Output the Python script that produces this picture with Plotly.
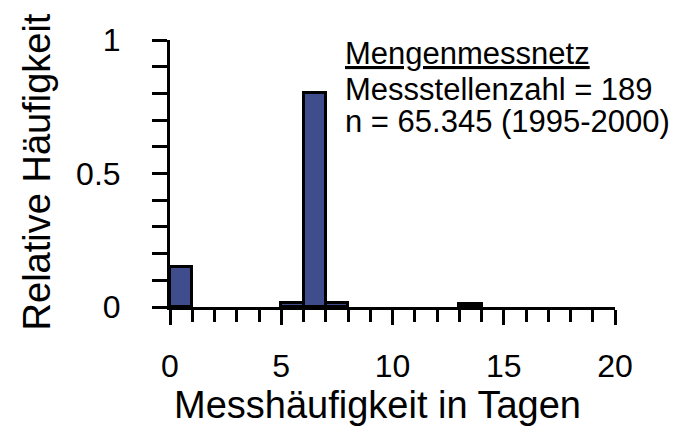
import plotly.graph_objects as go

# Data (bins: left edge in days, relative frequency)
days = [0, 5, 6, 7, 13]
rel_freq = [0.15, 0.016, 0.80, 0.016, 0.01]

x_tick_vals = [0, 5, 10, 15, 20]
x_tick_text = ["0", "5", "10", "15", "20"]
y_tick_vals = [0, 0.5, 1]
y_tick_text = ["0", "0.5", "1"]

x_title = "Messhäufigkeit in Tagen"
y_title = "Relative Häufigkeit"
info_lines = ["<u>Mengenmessnetz</u>", "Messstellenzahl = 189", "n = 65.345 (1995-2000)"]

FONT = "Arial, Liberation Sans, sans-serif"

fig = go.Figure()
fig.add_trace(go.Bar(
    x=days, y=rel_freq, width=1, offset=0,
    marker=dict(color="rgb(64,77,140)", line=dict(color="black", width=3)),
    showlegend=False, cliponaxis=False,
))

# page body has an 8px margin; compensate so the plot area lands where the reference has it
fig.update_layout(
    width=679, height=428,
    margin=dict(l=162, r=72, t=32, b=129),
    paper_bgcolor="white", plot_bgcolor="white",
    font=dict(family=FONT, color="black", size=32),
    bargap=0,
)

fig.update_xaxes(
    range=[0, 20], showgrid=False, zeroline=False,
    showline=True, linecolor="black", linewidth=3,
    ticks="outside", ticklen=15, tickwidth=3, tickcolor="black",
    tickvals=x_tick_vals, ticktext=x_tick_text,
    tickfont=dict(size=32), ticklabelstandoff=14,
    minor=dict(dtick=1, ticks="outside", ticklen=12, tickwidth=3, tickcolor="black", showgrid=False),
)
fig.update_yaxes(
    range=[0, 1], showgrid=False, zeroline=False,
    showline=True, linecolor="black", linewidth=3,
    ticks="outside", ticklen=15, tickwidth=3, tickcolor="black",
    tickvals=y_tick_vals, ticktext=y_tick_text,
    tickfont=dict(size=32), ticklabelstandoff=25,
    minor=dict(dtick=0.1, ticks="outside", ticklen=15, tickwidth=3, tickcolor="black", showgrid=False),
)

# Axis titles
fig.add_annotation(text=x_title, xref="paper", yref="paper", x=0.466, y=-0.367,
                   showarrow=False, font=dict(size=38), xanchor="center", yanchor="middle")
fig.add_annotation(text=y_title, xref="paper", yref="paper", x=-0.30, y=0.506,
                   showarrow=False, font=dict(size=38), textangle=-90,
                   xanchor="center", yanchor="middle")

# Info text
for yy, line in zip([0.948, 0.816, 0.693], info_lines):
    fig.add_annotation(text=line, xref="paper", yref="paper", x=0.389, y=yy,
                       showarrow=False, font=dict(size=31), xanchor="left", yanchor="middle")

fig.write_html("out.html")
